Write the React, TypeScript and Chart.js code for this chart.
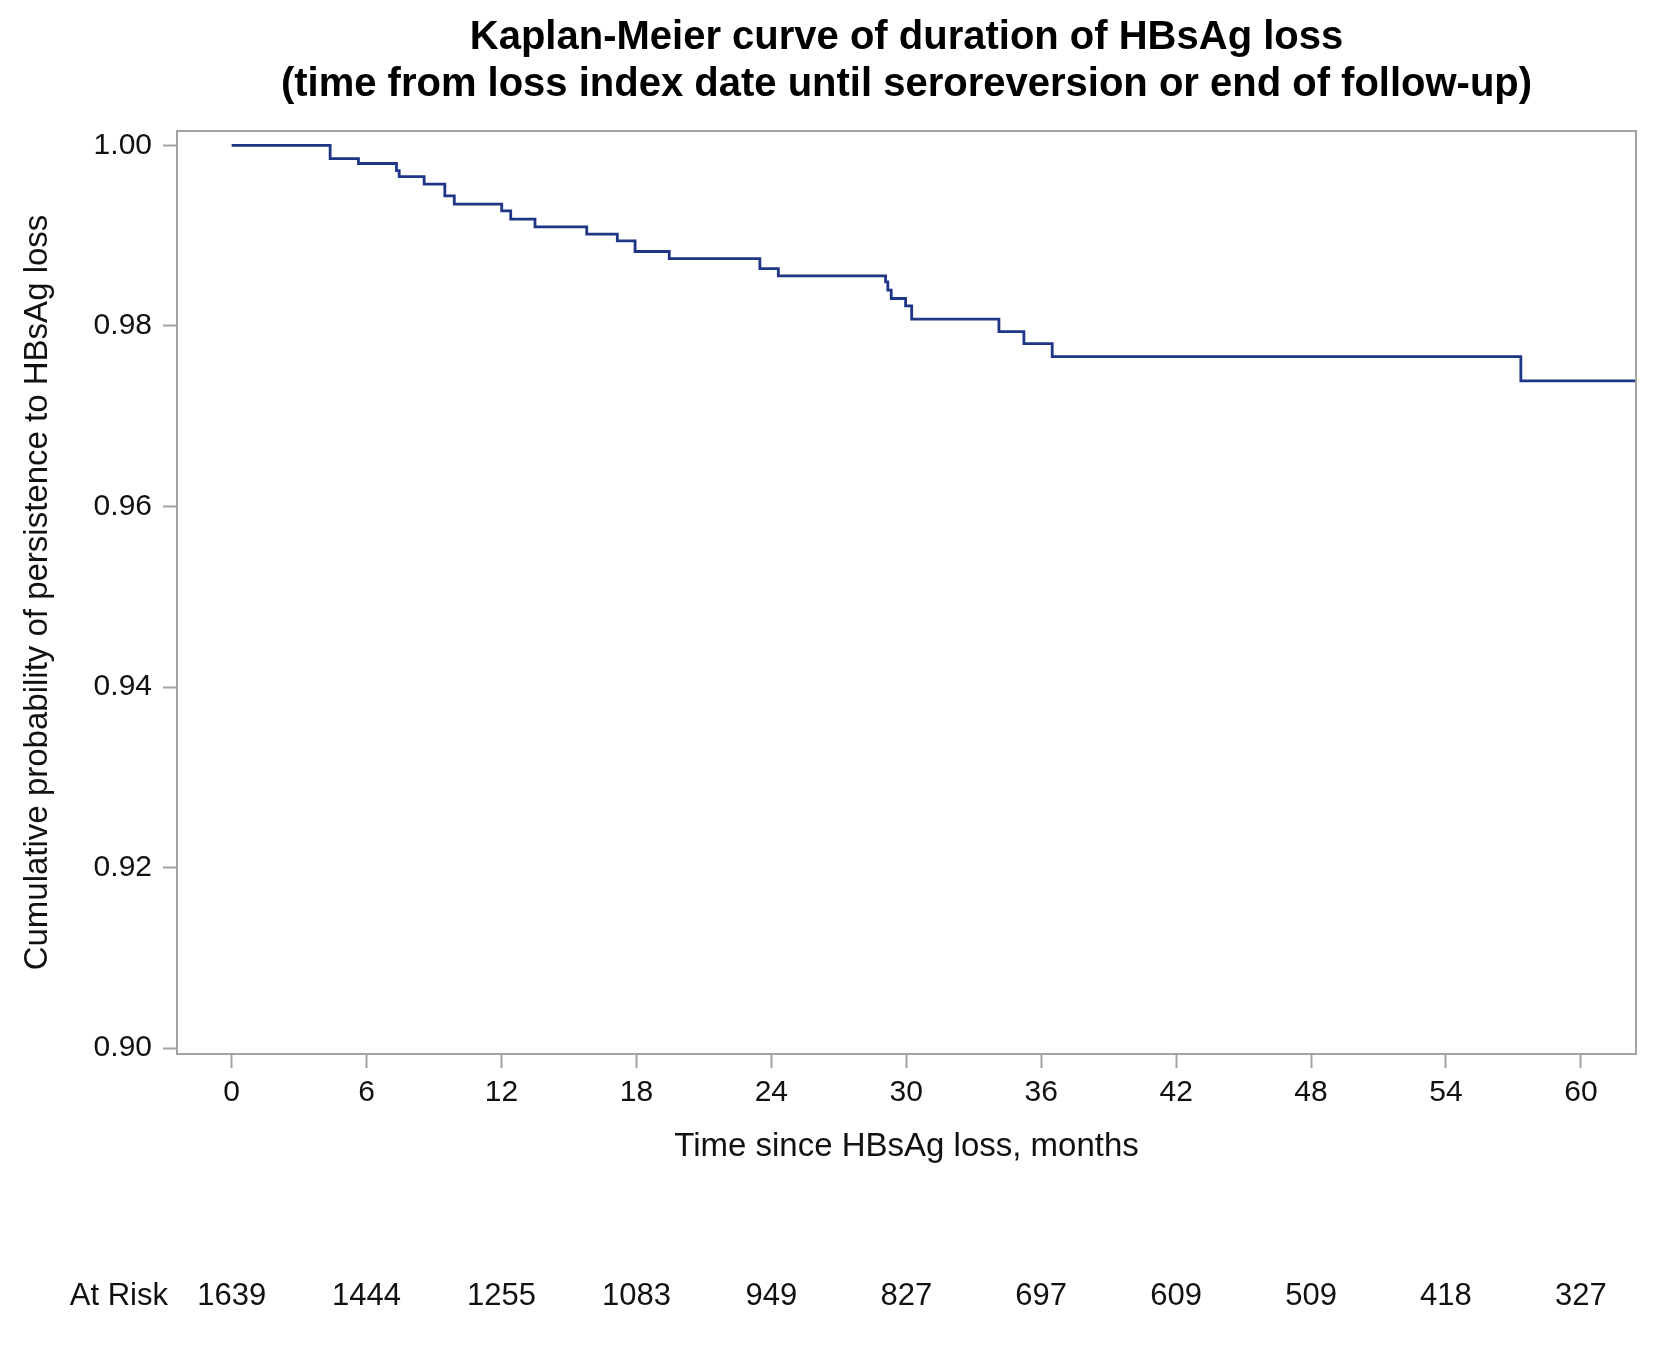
import React, { useEffect, useRef } from "react";
import { Chart, registerables } from "chart.js";

Chart.register(...registerables);

const titleLines = [
  "Kaplan-Meier curve of duration of HBsAg loss",
  "(time from loss index date until seroreversion or end of follow-up)",
];
const yAxisTitle = "Cumulative probability of persistence to HBsAg loss";
const xAxisTitle = "Time since HBsAg loss, months";

// Kaplan-Meier step times (months) and survival after each step
const kmTimes = [
  0, 4.38, 5.64, 7.33, 7.45, 8.56, 9.48, 9.9, 12.01, 12.41, 13.49, 15.79, 17.15,
  17.94, 19.46, 23.49, 24.31, 29.08, 29.18, 29.33, 29.97, 30.24, 34.12, 35.23,
  36.49, 57.33, 62.45,
];
const kmSurvival = [
  1.0, 0.99855, 0.998, 0.9972, 0.99655, 0.99571, 0.99442, 0.9935, 0.99275,
  0.99183, 0.99098, 0.99017, 0.98943, 0.98825, 0.98747, 0.98636, 0.98555,
  0.98489, 0.98397, 0.98304, 0.98223, 0.98075, 0.97938, 0.97805, 0.97661,
  0.97392, 0.97392,
];

const xTicks = [0, 6, 12, 18, 24, 30, 36, 42, 48, 54, 60];
const yTicks = [0.9, 0.92, 0.94, 0.96, 0.98, 1.0];
const atRiskLabel = "At Risk";
const atRiskCounts = [1639, 1444, 1255, 1083, 949, 827, 697, 609, 509, 418, 327];

const FONT = "'Liberation Sans', Arial, Helvetica, sans-serif";
const FRAME = "#a3a3a3";
const LINE = "#1f3585";

export default function App() {
  const ref = useRef<HTMLCanvasElement | null>(null);

  useEffect(() => {
    const canvas = ref.current;
    if (!canvas) return;

    const extras = {
      id: "extras",
      afterDatasetsDraw(chart: any) {
        const { ctx, chartArea } = chart;
        ctx.save();
        ctx.strokeStyle = FRAME;
        ctx.lineWidth = 2;
        ctx.strokeRect(
          chartArea.left,
          chartArea.top,
          chartArea.right - chartArea.left,
          chartArea.bottom - chartArea.top
        );
        ctx.restore();
      },
      afterDraw(chart: any) {
        const { ctx, chartArea } = chart;
        const xs = chart.scales.x;
        ctx.save();
        ctx.fillStyle = "#000";
        ctx.textAlign = "center";
        ctx.textBaseline = "middle";
        ctx.font = `bold 40px ${FONT}`;
        const cx = (chartArea.left + chartArea.right) / 2;
        ctx.fillText(titleLines[0], cx, 38);
        ctx.fillText(titleLines[1], cx, 85);

        ctx.font = `31px ${FONT}`;
        ctx.fillStyle = "#111";
        ctx.textAlign = "right";
        ctx.fillText(atRiskLabel, 168, 1296);
        ctx.textAlign = "center";
        xTicks.forEach((t, i) => {
          ctx.fillText(String(atRiskCounts[i]), xs.getPixelForValue(t), 1296);
        });
        ctx.restore();
      },
    };

    const chart = new Chart(canvas, {
      type: "line",
      data: {
        datasets: [
          {
            data: kmTimes.map((t, i) => ({ x: t, y: kmSurvival[i] })),
            borderColor: LINE,
            borderWidth: 2.8,
            pointRadius: 0,
            stepped: "before",
            fill: false,
          },
        ],
      },
      options: {
        responsive: false,
        animation: false,
        devicePixelRatio: 1,
        layout: { padding: { top: 131, right: 31, left: 0, bottom: 0 } },
        plugins: {
          legend: { display: false },
          title: { display: false },
          tooltip: { enabled: false },
        },
        scales: {
          x: {
            type: "linear",
            min: -2.43,
            max: 62.45,
            afterBuildTicks: (s: any) => {
              s.ticks = xTicks.map((v) => ({ value: v }));
            },
            afterFit: (s: any) => {
              s.height = 1363 - 1054;
            },
            grid: {
              drawOnChartArea: false,
              drawTicks: true,
              tickLength: 14,
              tickColor: FRAME,
              tickWidth: 2,
            },
            border: { display: true, color: FRAME, width: 2 },
            ticks: {
              color: "#111",
              font: { family: FONT, size: 30 },
              padding: 7,
              maxRotation: 0,
              callback: (v: any) => String(v),
            },
            title: {
              display: true,
              text: xAxisTitle,
              color: "#111",
              font: { family: FONT, size: 33 },
              padding: { top: 0, bottom: 196 },
            },
          },
          y: {
            type: "linear",
            min: 0.89934,
            max: 1.0016,
            afterBuildTicks: (s: any) => {
              s.ticks = yTicks.map((v) => ({ value: v }));
            },
            afterFit: (s: any) => {
              s.width = 177;
            },
            grid: {
              drawOnChartArea: false,
              drawTicks: true,
              tickLength: 14,
              tickColor: FRAME,
              tickWidth: 2,
            },
            border: { display: true, color: FRAME, width: 2 },
            ticks: {
              color: "#111",
              font: { family: FONT, size: 30 },
              padding: 11,
              callback: (v: any) => Number(v).toFixed(2),
            },
            title: {
              display: true,
              text: yAxisTitle,
              color: "#111",
              font: { family: FONT, size: 33 },
              padding: { top: 18, bottom: 0 },
            },
          },
        },
      },
      plugins: [extras],
    } as any);

    return () => chart.destroy();
  }, []);

  return (
    <div style={{ position: "absolute", left: 0, top: 0, width: 1667, height: 1363, background: "#fff" }}>
      <canvas ref={ref} width={1667} height={1363} style={{ display: "block" }} />
    </div>
  );
}
